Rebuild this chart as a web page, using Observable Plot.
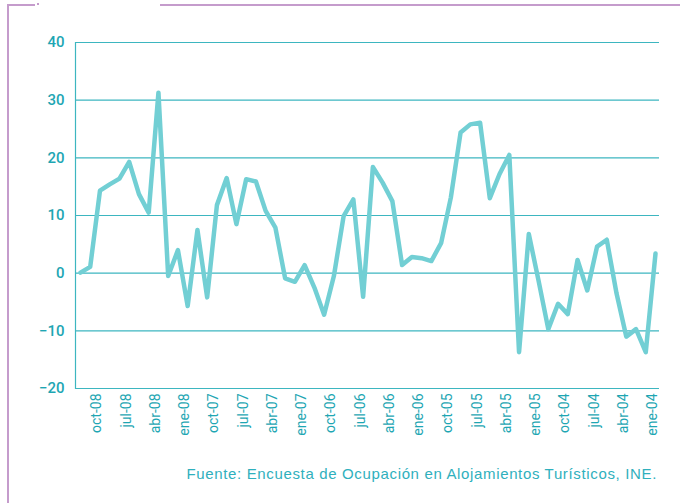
<!DOCTYPE html>
<html>
<head>
<meta charset="utf-8">
<script src="https://cdn.jsdelivr.net/npm/d3@7"></script>
<script src="https://cdn.jsdelivr.net/npm/@observablehq/plot@0.6"></script>
<style>
  html, body { margin: 0; padding: 0; background: #fff; }
  #wrap { position: relative; width: 680px; height: 503px; overflow: hidden; font-family: Roboto, "Liberation Sans", sans-serif; }
  .deco { position: absolute; background: #c59ccc; }
  #chart { position: absolute; left: 0; top: 0; }
  #caption { position: absolute; right: 23px; top: 465px; font-family: "Liberation Sans", Arial, sans-serif; font-size: 15px; letter-spacing: 0.65px; color: #2fb0bd; white-space: nowrap; }
</style>
</head>
<body>
<div id="wrap">
  <div class="deco" style="left:7px; top:4px; width:28px; height:2px;"></div>
  <div class="deco" style="left:37px; top:3px; width:2px; height:2px;"></div>
  <div class="deco" style="left:160px; top:4px; width:520px; height:2px;"></div>
  <div class="deco" style="left:7px; top:4px; width:2px; height:499px;"></div>
  <div id="chart"></div>
  <div id="caption">Fuente: Encuesta de Ocupación en Alojamientos Turísticos, INE.</div>
</div>
<script>
const months = [
  "dic-08","nov-08","oct-08","sep-08","ago-08","jul-08","jun-08","may-08","abr-08","mar-08","feb-08","ene-08",
  "dic-07","nov-07","oct-07","sep-07","ago-07","jul-07","jun-07","may-07","abr-07","mar-07","feb-07","ene-07",
  "dic-06","nov-06","oct-06","sep-06","ago-06","jul-06","jun-06","may-06","abr-06","mar-06","feb-06","ene-06",
  "dic-05","nov-05","oct-05","sep-05","ago-05","jul-05","jun-05","may-05","abr-05","mar-05","feb-05","ene-05",
  "dic-04","nov-04","oct-04","sep-04","ago-04","jul-04","jun-04","may-04","abr-04","mar-04","feb-04","ene-04"
];
const values = [
  0.1, 1.1, 14.3, 15.4, 16.4, 19.3, 13.7, 10.5, 31.3, -0.5, 4.0, -5.7,
  7.5, -4.2, 11.8, 16.5, 8.5, 16.3, 15.9, 10.8, 7.9, -0.9, -1.5, 1.4,
  -2.5, -7.2, -0.5, 9.9, 12.8, -4.1, 18.4, 15.7, 12.5, 1.4, 2.8, 2.6,
  2.1, 5.2, 13.1, 24.4, 25.8, 26.1, 13.0, 17.2, 20.5, -13.7, 6.8, -1.3,
  -9.7, -5.3, -7.1, 2.3, -3.0, 4.6, 5.8, -3.5, -11.0, -9.7, -13.7, 3.4
];
const xTickLabels = [
  "oct-08","jul-08","abr-08","ene-08","oct-07","jul-07","abr-07","ene-07",
  "oct-06","jul-06","abr-06","ene-06","oct-05","jul-05","abr-05","ene-05",
  "oct-04","jul-04","abr-04","ene-04"
];
const yTicks = [-20, -10, 0, 10, 20, 30, 40];

const data = values.map((v, i) => ({i, month: months[i], value: v}));
const xTicks = xTickLabels.map(l => months.indexOf(l));

const gridColor = "#3db6c0";
const textColor = "#1ea6b3";

const chart = Plot.plot({
  width: 680,
  height: 455,
  marginTop: 42,
  marginBottom: 67,
  marginLeft: 75,
  marginRight: 21,
  style: {fontFamily: "Roboto, 'Liberation Sans', sans-serif", background: "transparent", overflow: "visible"},
  x: {domain: [-0.51, months.length - 1 + 0.41], label: null},
  y: {domain: [-20, 40], label: null},
  marks: [
    Plot.ruleY(yTicks, {stroke: gridColor, strokeWidth: 1.2}),
    Plot.frame({anchor: "left", stroke: gridColor, strokeWidth: 1.2}),
    Plot.axisY(yTicks, {tickSize: 0, tickPadding: 11, fontSize: 15, fontWeight: 500, fill: textColor, label: null}),
    Plot.axisX(xTicks, {tickSize: 0, tickPadding: 5, tickRotate: -90, fontSize: 14, fill: textColor,
      tickFormat: i => months[i], label: null, dx: -3}),
    Plot.line(data, {x: "i", y: "value", stroke: "#72cfd4", strokeWidth: 4.5})
  ]
});
document.getElementById("chart").appendChild(chart);
</script>
</body>
</html>
